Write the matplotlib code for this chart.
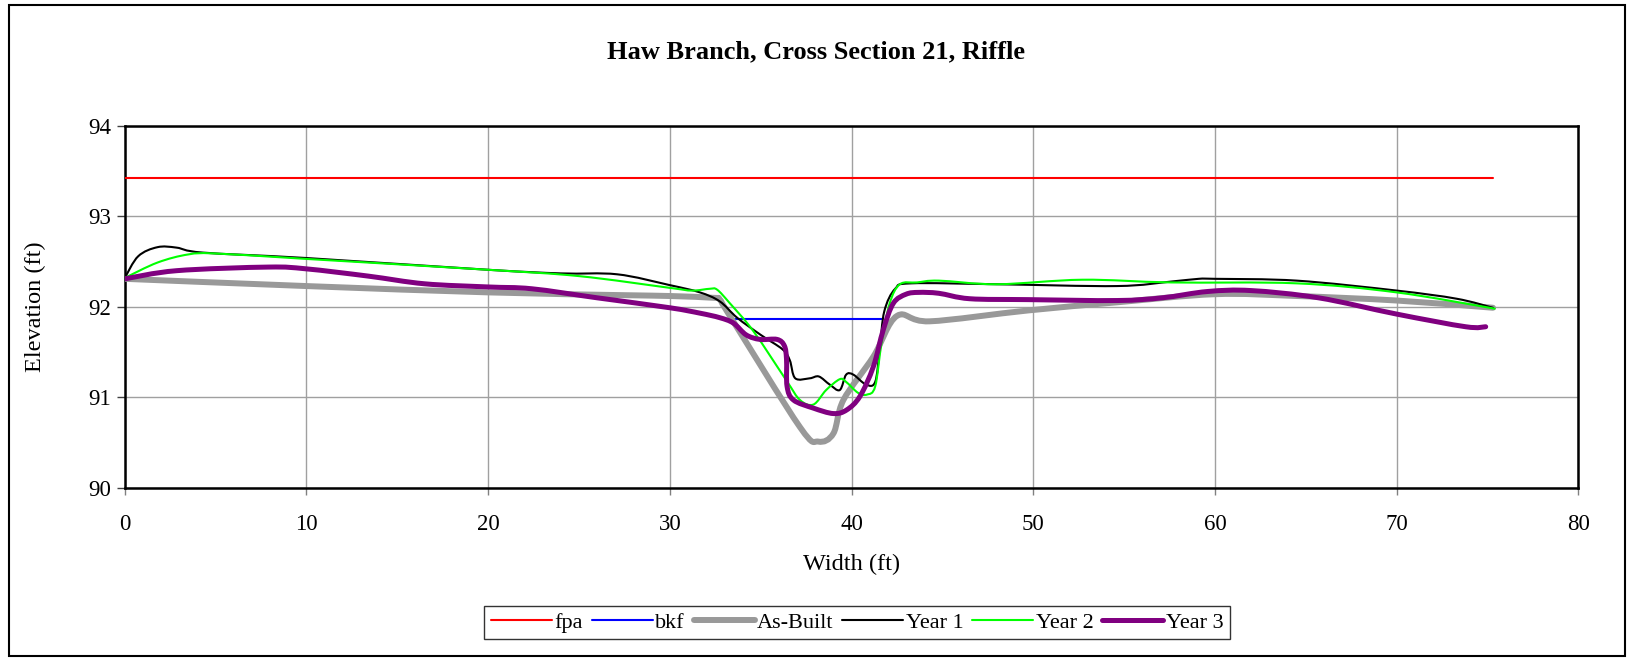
import numpy as np
import matplotlib
matplotlib.use("Agg")
import matplotlib.pyplot as plt
from matplotlib.path import Path
from matplotlib.patches import PathPatch, Rectangle
from matplotlib.lines import Line2D

plt.rcParams["font.family"] = ["Liberation Serif", "DejaVu Serif"]

# survey data (station ft, elevation ft)
fpa_x = [0.0, 75.3]
fpa_y = [93.42, 93.42]

bkf_x = [33.3, 41.7]
bkf_y = [91.87, 91.87]

asbuilt_x = [0, 10, 20, 27.25, 30, 32.4, 32.75, 33.3, 37.16, 38.17, 39.0, 39.55,
             41.2, 42.5, 44.3, 49.7, 54.6, 60.0, 64.5, 70.0, 75.3]
asbuilt_y = [92.31, 92.23, 92.16, 92.13, 92.12, 92.10, 92.08, 91.90, 90.67, 90.51, 90.6, 90.97,
             91.45, 91.90, 91.84, 91.96, 92.05, 92.14, 92.12, 92.07, 91.99]

year1_x = [0, 0.74, 1.8, 2.85, 4.3, 10, 20, 24, 27.1, 30, 31.65, 32.75, 33.7, 35.0,
           36.2, 36.6, 36.9, 37.7, 38.2, 38.8, 39.35, 39.7, 40.1, 40.8, 41.3, 41.55,
           41.8, 42.4, 43.3, 48.0, 54.6, 57.6, 59.1, 60.0, 64.5, 70.0, 73.3, 75.3]
year1_y = [92.32, 92.56, 92.66, 92.655, 92.60, 92.54, 92.41, 92.37, 92.36, 92.24, 92.16, 92.06, 91.88, 91.69,
           91.53, 91.41, 91.21, 91.21, 91.23, 91.14, 91.08, 91.25, 91.25, 91.14, 91.17, 91.53,
           91.95, 92.20, 92.26, 92.25, 92.23, 92.28, 92.31, 92.31, 92.29, 92.18, 92.09, 91.99]

year2_x = [0, 1.8, 3.5, 5.0, 10, 20, 25, 30, 31.2, 32.2, 32.6, 33.3, 34.6, 36.4, 37.16,
           37.9, 38.6, 39.35, 39.7, 40.35, 40.85, 41.3, 41.65, 42.1, 42.66, 43.6, 44.8,
           48.0, 52.7, 57.6, 64.5, 70.0, 75.4]
year2_y = [92.32, 92.49, 92.58, 92.59, 92.53, 92.41, 92.34, 92.21, 92.18, 92.20, 92.19, 92.04, 91.73, 91.19, 90.97,
           90.92, 91.08, 91.20, 91.17, 91.05, 91.03, 91.12, 91.60, 92.04, 92.25, 92.27, 92.29,
           92.25, 92.30, 92.27, 92.26, 92.16, 91.98]

year3_x = [0, 2.85, 7.9, 10, 13.4, 16.5, 20, 22.4, 26.0, 30, 31.66, 32.75, 33.5, 34.2,
           34.96, 35.9, 36.3, 36.42, 36.45, 36.8, 37.9, 39.0, 39.73, 40.46, 41.2, 41.75,
           42.3, 43.0, 43.7, 44.8, 46.5, 49.7, 54.6, 57.1, 59.6, 62.0, 65.7, 70.0, 73.8, 74.9]
year3_y = [92.31, 92.40, 92.44, 92.42, 92.34, 92.255, 92.22, 92.20, 92.10, 91.99, 91.93, 91.88, 91.82, 91.69,
           91.64, 91.64, 91.57, 91.42, 91.12, 90.97, 90.88, 90.82, 90.86, 91.01, 91.34, 91.75,
           92.04, 92.14, 92.16, 92.15, 92.09, 92.08, 92.07, 92.10, 92.17, 92.18, 92.10, 91.92, 91.78, 91.78]

series = [
    ("fpa", fpa_x, fpa_y, "#FF0000", 1.5),
    ("bkf", bkf_x, bkf_y, "#0000FF", 1.5),
    ("As-Built", asbuilt_x, asbuilt_y, "#999999", 4.3),
    ("Year 1", year1_x, year1_y, "#000000", 1.5),
    ("Year 2", year2_x, year2_y, "#00FF00", 1.5),
    ("Year 3", year3_x, year3_y, "#800080", 3.6),
]


def smooth_path(x, y):
    """Bezier path through the points, like a spreadsheet 'smoothed line'."""
    p = np.column_stack([x, y]).astype(float)
    if len(p) < 3:
        return Path(p)
    verts = [p[0]]
    codes = [Path.MOVETO]
    n = len(p)
    for i in range(n - 1):
        p0 = p[i - 1] if i > 0 else p[i]
        p1, p2 = p[i], p[i + 1]
        p3 = p[i + 2] if i + 2 < n else p[i + 1]
        c1 = p1 + (p2 - p0) / 6.0
        c2 = p2 - (p3 - p1) / 6.0
        verts += [c1, c2, p2]
        codes += [Path.CURVE4] * 3
    return Path(verts, codes)


fig = plt.figure(figsize=(16.27, 6.58), dpi=100)
ax = fig.add_axes([0.0767, 0.2588, 0.8934, 0.5497])

handles = []
for i, (name, xs, ys, color, lw) in enumerate(series):
    patch = PathPatch(smooth_path(xs, ys), fill=False, edgecolor=color, linewidth=lw,
                      capstyle="round", joinstyle="round", zorder=3 + i)
    ax.add_patch(patch)
    handles.append(Line2D([], [], color=color, linewidth=lw, solid_capstyle="round", label=name))

ax.set_xlim(0, 80)
ax.set_ylim(90, 94)
ax.set_xticks(np.arange(0, 81, 10))
ax.set_yticks(np.arange(90, 94.1, 1))
ax.grid(True, color="#A0A0A0", linewidth=1.0)
ax.set_axisbelow(True)
for s in ax.spines.values():
    s.set_linewidth(1.8)
    s.set_color("black")
ax.tick_params(axis="x", direction="out", length=5, width=1, color="#808080",
               labelsize=16.5, pad=14)
ax.tick_params(axis="y", direction="out", length=6, width=1, color="#404040",
               labelsize=16.5, pad=4)

ax.set_xlabel("Width (ft)", fontsize=17.5)
ax.set_ylabel("Elevation (ft)", fontsize=17.5)
ax.xaxis.set_label_coords(0.5, -0.184)
ax.yaxis.set_label_coords(-0.054, 0.5)

fig.text(0.5015, 0.921, "Haw Branch, Cross Section 21, Riffle", ha="center", va="center",
         fontsize=19, fontweight="bold")

leg = fig.legend(handles=handles, loc="center", bbox_to_anchor=(0.5268, 0.054), ncol=6,
                 fontsize=16, frameon=True, fancybox=False, edgecolor="black",
                 handlelength=2.75, handletextpad=0.1, columnspacing=0.4,
                 borderpad=0.3, borderaxespad=0)
leg.get_frame().set_linewidth(1.0)

# chart area border
fig.patches.append(Rectangle((9 / 1627, 2 / 658), 1616 / 1627, 651 / 658,
                             transform=fig.transFigure, fill=False,
                             edgecolor="black", linewidth=1.5))

fig.savefig("out.png", dpi=100)
